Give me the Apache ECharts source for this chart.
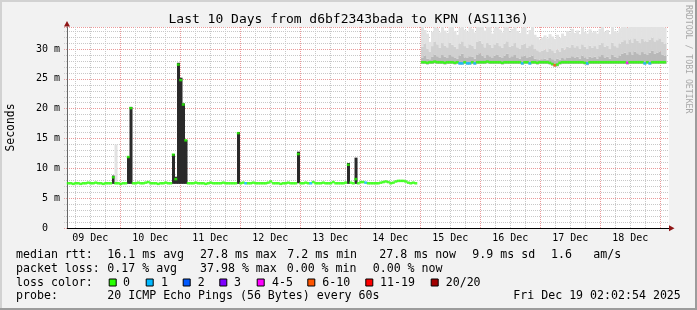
<!DOCTYPE html>
<html><head><meta charset="utf-8">
<script src="https://cdn.jsdelivr.net/npm/echarts@6/dist/echarts.min.js"></script>
<style>html,body{margin:0;padding:0;background:#f2f2f2}#c{width:697px;height:310px}</style>
</head><body><div id="c"></div>
<script>
// ================= DATA =================
const chartTitle = 'Last 10 Days from d6bf2343bada to KPN (AS1136)';
const yAxisName = 'Seconds';
const watermark = 'RRDTOOL / TOBI OETIKER';

// x axis: hours counted from 09 Dec 00:00
const dayLabels = ['09 Dec','10 Dec','11 Dec','12 Dec','13 Dec','14 Dec','15 Dec','16 Dec','17 Dec','18 Dec'];
const dayLabelHours = [12,36,60,84,108,132,156,180,204,228];
const dayHours = [24,48,72,96,120,144,168,192,216,240];
const quarterDayHours = [6,12,18,30,36,42,54,60,66,78,84,90,102,108,114,126,132,138,150,156,162,174,180,186,198,204,210,222,228,234];

// left segment: hourly medians (ms), first sample at hour 3.2
const leftStartHour = 3.2;
const leftMedian = [
 7.5,7.5,7.4,7.5,7.5,7.4,7.5,7.5,7.6,7.5,
 7.5,7.6,7.5,7.5,7.4,7.5,7.5,7.5,8.5,7.5,
 7.5,7.4,7.5,7.5,11.9,20.1,7.5,7.5,7.6,7.5,
 7.5,7.6,7.7,7.5,7.5,7.5,7.4,7.5,7.5,7.6,
 7.5,7.5,12.3,8.2,27.4,24.8,20.7,14.7,7.5,7.5,
 7.5,7.6,7.5,7.5,7.5,7.4,7.5,7.6,7.5,7.5,
 7.5,7.5,7.6,7.5,7.5,7.5,7.5,7.5,15.9,7.5,
 7.6,7.5,7.5,7.5,7.6,7.5,7.5,7.5,7.5,7.5,
 7.6,7.8,7.5,7.5,7.5,7.4,7.5,7.5,7.6,7.5,
 7.5,7.5,12.4,7.5,7.5,7.6,7.5,7.5,7.7,7.5,
 7.5,7.5,7.6,7.5,7.5,7.5,7.7,7.5,7.5,7.5,
 7.5,7.6,10.6,7.6,7.5,8.2,7.5,7.7,7.7,7.6,
 7.5,7.5,7.5,7.5,7.5,7.6,7.7,7.8,7.7,7.5,
 7.6,7.8,7.9,7.9,7.9,7.8,7.6,7.5,7.6,7.5
];
// dense smoke spikes in the left segment (sample index, lowest ping, highest ping)
const spikeIndex = [18,24,25,42,43,44,45,46,47,68,92,112,115];
const spikeLow   = [7.4,7.4,7.4,7.4,7.4,7.4,7.4,7.4,7.4,7.4,7.5,7.4,7.4];
const spikeHigh  = [8.8,12.0,20.3,12.4,8.6,27.7,25.2,20.9,14.8,16.1,12.8,10.9,11.8];
// single outlier ping (light smoke)
const outlierIndex = [19];
const outlierHigh = [14.0];
const leftLossIndex = [71,97,119];
const leftLossCount = [1,1,1];

// right segment: hourly samples, first at hour 144.8
const rightStartHour = 144.8;
const rightMedian = [
 27.8,27.8,27.7,27.8,27.8,27.9,27.8,27.8,27.8,27.7,
 27.8,27.8,27.8,27.7,27.8,27.6,27.6,27.8,27.6,27.6,
 27.8,27.6,27.8,27.8,27.8,27.8,27.9,27.8,27.8,27.8,
 27.8,27.8,27.7,27.8,27.8,27.8,27.8,27.8,27.8,27.8,
 27.6,27.8,27.8,27.6,27.8,27.8,27.7,27.8,27.8,27.8,
 27.8,27.7,27.5,27.3,27.4,27.7,27.8,27.8,27.8,27.8,
 27.8,27.8,27.8,27.8,27.8,27.7,27.6,27.8,27.8,27.8,
 27.8,27.8,27.8,27.8,27.8,27.8,27.8,27.8,27.8,27.8,
 27.8,27.8,27.7,27.8,27.8,27.8,27.8,27.8,27.8,27.6,
 27.8,27.6,27.8,27.8,27.8,27.8,27.8,27.8
];
const rightMin = [
 27.5,27.5,27.4,27.5,27.5,27.6,27.5,27.5,27.5,27.4,
 27.5,27.5,27.5,27.4,27.5,27.4,27.4,27.5,27.4,27.4,
 27.5,27.4,27.5,27.5,27.5,27.5,27.6,27.5,27.5,27.5,
 27.5,27.5,27.4,27.5,27.5,27.5,27.5,27.5,27.5,27.5,
 27.4,27.5,27.5,27.4,27.5,27.5,27.4,27.5,27.5,27.5,
 27.5,27.4,27.2,27.0,27.1,27.4,27.5,27.5,27.5,27.5,
 27.5,27.5,27.5,27.5,27.5,27.4,27.3,27.5,27.5,27.5,
 27.5,27.5,27.5,27.5,27.5,27.5,27.5,27.5,27.5,27.5,
 27.5,27.5,27.4,27.5,27.5,27.5,27.5,27.5,27.5,27.4,
 27.5,27.4,27.5,27.5,27.5,27.5,27.5,27.5
];
const rightInner = [
 28.6,28.9,28.4,28.3,28.7,29.1,28.8,28.5,29.0,28.7,
 28.5,29.0,28.8,28.6,28.4,28.9,29.2,28.6,28.5,28.8,
 28.7,28.4,29.1,29.3,28.9,28.6,29.0,28.8,28.5,28.9,
 29.1,28.7,28.5,28.9,29.2,28.6,28.8,29.0,28.5,28.4,
 28.8,28.9,28.5,28.7,28.9,28.4,28.3,28.2,28.3,28.4,
 28.2,28.5,28.3,28.1,28.4,28.2,28.5,28.3,28.6,28.5,
 28.8,28.6,28.7,28.4,28.9,28.6,28.4,28.7,28.5,28.7,
 28.4,28.8,29.0,28.6,28.7,28.4,29.1,28.7,28.6,28.9,
 29.2,29.4,29.0,29.5,29.1,29.6,29.3,29.0,29.5,29.2,
 29.1,29.4,29.7,29.2,29.4,29.6,29.1,28.9
];
const rightOuter = [
 30.4,30.9,30.1,29.6,30.5,31.2,30.8,30.2,31.0,30.6,
 30.3,31.1,30.7,30.4,30.0,30.9,31.3,30.5,30.2,30.8,
 30.6,30.1,31.2,31.4,30.9,30.3,31.0,30.7,30.2,30.8,
 31.1,30.5,30.2,30.9,31.3,30.4,30.6,31.0,30.3,30.1,
 30.7,30.9,30.2,30.5,30.8,30.0,29.8,29.5,29.7,29.9,
 29.6,30.1,29.8,29.4,29.9,29.6,30.2,29.9,30.4,30.2,
 30.7,30.3,30.5,30.1,30.8,30.4,30.0,30.6,30.2,30.5,
 30.1,30.7,31.0,30.4,30.6,30.0,31.1,30.5,30.3,30.9,
 31.2,31.5,30.9,31.6,31.1,31.8,31.4,31.0,31.7,31.3,
 31.2,31.6,31.9,31.3,31.5,31.8,31.2,30.9
];
const rightMax = [
 33.8,33.2,32.6,31.2,32.9,34.0,33.5,32.8,34.2,33.1,
 32.7,33.9,34.1,33.0,32.4,33.6,34.3,33.2,32.9,33.8,
 33.4,32.8,34.0,34.4,33.7,33.1,34.2,33.9,32.6,33.5,
 34.1,33.3,32.8,33.9,34.0,32.9,33.4,34.2,33.0,32.7,
 33.6,33.9,32.5,33.2,33.8,32.4,32.0,31.6,31.9,32.3,
 31.8,32.5,32.1,31.7,32.4,31.9,32.6,32.2,33.0,32.8,
 33.4,32.7,33.1,32.5,33.6,32.9,32.6,33.3,32.8,33.0,
 32.6,33.4,33.8,32.9,33.2,32.5,33.7,33.0,32.8,33.5,
 33.9,34.2,33.6,34.3,33.8,34.5,34.1,33.7,34.4,34.0,
 33.8,34.3,34.6,33.9,34.2,34.5,34.0,33.6
];
const rightLossIndex = [15,16,18,19,21,40,43,53,66,82,89,91];
const rightLossCount = [1,1,1,1,1,1,1,8,1,4,1,1];

// legend / statistics text
const legendRows = [
  ['median rtt:', '16.1 ms avg', '27.8 ms max', '7.2 ms min', '27.8 ms now', '9.9 ms sd', '1.6', 'am/s'],
  ['packet loss:', '0.17 % avg', '37.98 % max', '0.00 % min', '0.00 % now'],
  ['loss color:'],
  ['probe:', '20 ICMP Echo Pings (56 Bytes) every 60s', 'Fri Dec 19 02:02:54 2025']
];
const lossLabels = ['0','1','2','3','4-5','6-10','11-19','20/20'];
const lossColors = ['#26ff00','#00b8ff','#0059ff','#7e00ff','#ff00ff','#ff5500','#ff0000','#a10000'];
const lossLimits = [[0,0],[1,1],[2,2],[3,3],[4,5],[6,10],[11,19],[20,20]];

// ================= LAYOUT (not data) =================
const legendColX = [
  [16,107.3,200,287.3,379.3,472.3,551,593.3],
  [16,107.3,200,286.7,372.7],
  [16],
  [16,107.3,513.3]
];
const legendRowY = [254.5,268.5,282.5,296.3];
const lossBoxX = [108.7,145.7,182.7,219.3,256.7,307.3,365.3,430.7];
const lossTextX = [123,161,197.7,234,272,322.3,380,445.7];
const smokeShades = ['#2a2a2a','#b8b8b8','#d0d0d0','#e2e2e2'];
const MONO = '"DejaVu Sans Mono", monospace';
const X_MIN = 2.7, X_MAX = 243.48;

// ================= BUILD =================
const smokeData = [];
const medianData = [];
const leftLoss = {}; leftLossIndex.forEach((k,i)=>leftLoss[k]=leftLossCount[i]);
const rightLoss = {}; rightLossIndex.forEach((k,i)=>rightLoss[k]=rightLossCount[i]);
leftMedian.forEach((m,i)=>{ medianData.push([leftStartHour+i, m, leftLoss[i]||0]); });
spikeIndex.forEach((k,i)=>{ const t=leftStartHour+k; const h=spikeHigh[i]; smokeData.push([t, spikeLow[i], h, h, h, h]); });
outlierIndex.forEach((k,i)=>{ const t=leftStartHour+k; const m=leftMedian[k]; smokeData.push([t, m, m, m, m, outlierHigh[i]]); });
rightMedian.forEach((m,i)=>{
  const t = rightStartHour+i;
  medianData.push([t, m, rightLoss[i]||0]);
  smokeData.push([t, rightMin[i], rightMin[i], rightInner[i], rightOuter[i], rightMax[i]]);
});

function renderSmoke(params, api){
  const t = api.value(0);
  const b = [api.value(1),api.value(2),api.value(3),api.value(4),api.value(5)];
  const w = api.size([1,0])[0];
  const cs = params.coordSys;
  const children = [];
  for (let k=0;k<4;k++){
    if (!(b[k+1] > b[k])) continue;
    const top = api.coord([t, b[k+1]]);
    const bot = api.coord([t, b[k]]);
    const r = echarts.graphic.clipRectByRect(
      {x: top[0]-w/2, y: top[1], width: w+0.5, height: bot[1]-top[1]},
      {x: cs.x, y: cs.y, width: cs.width, height: cs.height});
    if (r) children.push({type:'rect', shape:r, style:{fill:smokeShades[k]}});
  }
  return {type:'group', children};
}

const graphics = [];
// frame
graphics.push({type:'line', shape:{x1:0,y1:1,x2:697,y2:1}, style:{stroke:'#d2d2d2',lineWidth:2}, z:100});
graphics.push({type:'line', shape:{x1:1,y1:0,x2:1,y2:310}, style:{stroke:'#d2d2d2',lineWidth:2}, z:100});
graphics.push({type:'line', shape:{x1:696,y1:0,x2:696,y2:310}, style:{stroke:'#9c9c9c',lineWidth:2}, z:100});
graphics.push({type:'line', shape:{x1:0,y1:309,x2:697,y2:309}, style:{stroke:'#9c9c9c',lineWidth:2}, z:100});
// axis arrows
graphics.push({type:'polygon', shape:{points:[[64,26.5],[70,26.5],[67,21]]}, style:{fill:'#8f1616'}, z:100});
graphics.push({type:'polygon', shape:{points:[[669,225.3],[669,231.3],[674.5,228.3]]}, style:{fill:'#8f1616'}, z:100});
// watermark
graphics.push({type:'text', x:688, y:5, rotation:-Math.PI/2, style:{text:watermark, font:'8.2px '+MONO, fill:'#a8a8a8', align:'left', verticalAlign:'middle'}, z:100});
// legend rows
legendRows.forEach((row,r)=>{
  row.forEach((txt,c)=>{
    graphics.push({type:'text', x:legendColX[r][c], y:legendRowY[r], style:{text:txt, font:'11.6px '+MONO, fill:'#000', align:'left', verticalAlign:'middle'}, z:100});
  });
});
lossLabels.forEach((lab,i)=>{
  graphics.push({type:'rect', shape:{x:lossBoxX[i]+0.5, y:legendRowY[2]-3.5, width:7, height:7}, style:{fill:lossColors[i], stroke:'#000', lineWidth:1}, z:100});
  graphics.push({type:'text', x:lossTextX[i], y:legendRowY[2], style:{text:lab, font:'11.6px '+MONO, fill:'#000', align:'left', verticalAlign:'middle'}, z:100});
});

const chart = echarts.init(document.getElementById('c'), null, {renderer:'canvas'});
chart.setOption({
  animation:false,
  backgroundColor:'#f2f2f2',
  title:{text:chartTitle, left:'center', top:13, padding:0, textStyle:{fontFamily:MONO, fontSize:13, fontWeight:'normal', color:'#000'}},
  grid:{left:67, right:28, top:27, bottom:82, show:true, backgroundColor:'#ffffff', borderWidth:0, containLabel:false, outerBoundsMode:'none'},
  xAxis:[
    {type:'value', min:X_MIN, max:X_MAX,
      axisLine:{show:true, lineStyle:{color:'#000', width:1}},
      axisTick:{show:false, customValues:quarterDayHours},
      splitLine:{show:true, lineStyle:{color:'#c8c8c8', type:[1,1], width:1}},
      axisLabel:{customValues:dayLabelHours, formatter:(v)=>dayLabels[dayLabelHours.indexOf(v)]||'', fontFamily:MONO, fontSize:10, color:'#000', margin:5, hideOverlap:false}
    },
    {type:'value', min:X_MIN, max:X_MAX, position:'bottom', z:1,
      axisLine:{show:false}, axisLabel:{show:false},
      axisTick:{show:false, customValues:dayHours},
      splitLine:{show:true, lineStyle:{color:'#eb9a9a', type:[1,1], width:1}}
    }
  ],
  yAxis:{type:'value', min:0, max:33.7, interval:5,
    name:yAxisName, nameLocation:'middle', nameRotate:90, nameGap:50,
    nameTextStyle:{fontFamily:MONO, fontSize:11.4, color:'#000'},
    axisLine:{show:true, lineStyle:{color:'#666', width:1}},
    axisTick:{show:true, length:3, lineStyle:{color:'#eaa0a0', type:[1,1]}},
    minorTick:{show:true, splitNumber:5, length:3, lineStyle:{color:'#cccccc', type:[1,1]}},
    splitLine:{show:true, lineStyle:{color:'#eb9a9a', type:[1,1]}},
    minorSplitLine:{show:true, lineStyle:{color:'#c8c8c8', type:[1,1]}},
    axisLabel:{formatter:(v)=> v===0 ? '0  ' : v+' m', fontFamily:MONO, fontSize:10, color:'#000', margin:7, showMaxLabel:false}
  },
  visualMap:{show:false, type:'piecewise', seriesIndex:1, dimension:2,
    pieces: lossLimits.map((l,i)=>({min:l[0], max:l[1], color:lossColors[i]}))},
  series:[
    {type:'custom', renderItem:renderSmoke, data:smokeData, z:2, silent:true, encode:{x:0, y:[1,5]}},
    {type:'scatter', data:medianData, symbol:'rect', symbolSize:[3,2.5], z:4, silent:true, encode:{x:0,y:1}}
  ],
  graphic:graphics
});
</script></body></html>
